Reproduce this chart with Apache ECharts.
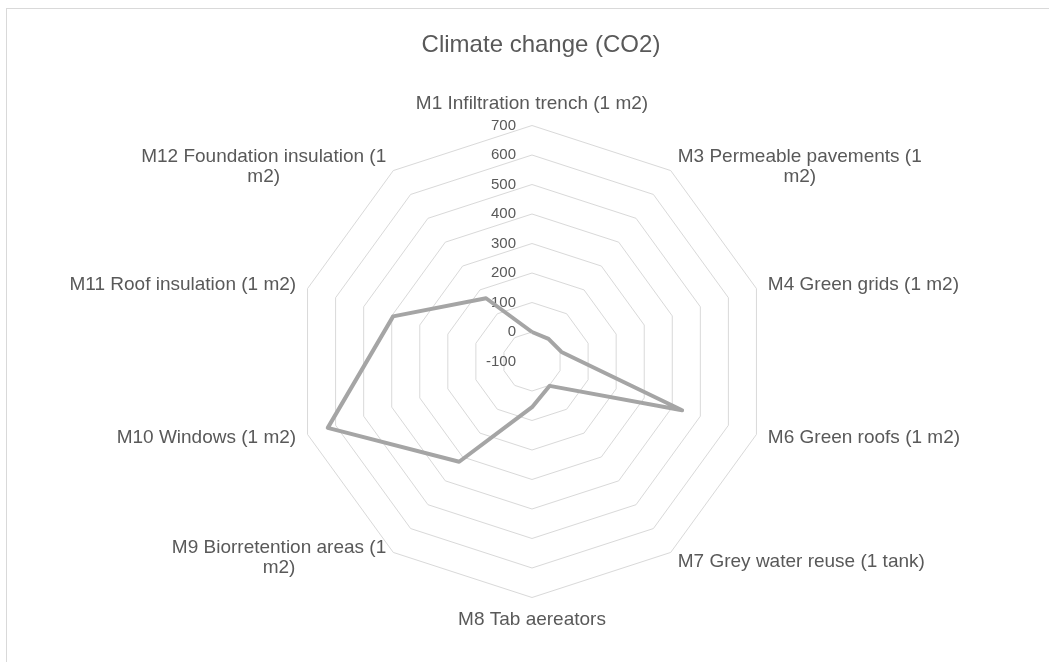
<!DOCTYPE html>
<html>
<head>
<meta charset="utf-8">
<script src="https://cdn.jsdelivr.net/npm/echarts@6/dist/echarts.min.js"></script>
<style>
  html, body { margin: 0; padding: 0; background: #fff; }
  #frame { position: absolute; left: 6px; top: 8px; width: 1200px; height: 800px; border-left: 1px solid #D9D9D9; border-top: 1px solid #D9D9D9; pointer-events: none; }
  #chart { position: absolute; left: 0; top: 0; width: 1049px; height: 662px; }
</style>
</head>
<body>
<div id="chart"></div>
<div id="frame"></div>
<script>
const titleText = 'Climate change (CO2)';
// categories in clockwise order, starting at the top
const categories = [
  'M1 Infiltration trench (1 m2)',
  'M3 Permeable pavements (1\nm2)',
  'M4 Green grids (1 m2)',
  'M6 Green roofs (1 m2)',
  'M7 Grey water reuse (1 tank)',
  'M8 Tab aereators',
  'M9 Biorretention areas (1\nm2)',
  'M10 Windows (1 m2)',
  'M11 Roof insulation (1 m2)',
  'M12 Foundation insulation (1\nm2)'
];
const values = [0, -5, 5, 435, 2, 55, 320, 628, 395, 165];
const axisMin = -100;
const axisMax = 700;
const axisSplits = 8;

const FONT = '"Liberation Sans", Arial, sans-serif';
const TXT = '#595959';

// ECharts radar runs counter-clockwise; reorder so the picture runs clockwise
const order = [0];
for (let i = categories.length - 1; i >= 1; i--) order.push(i);
const n = categories.length;

const indicator = order.map((ci, k) => {
  const o = { name: categories[ci], min: axisMin, max: axisMax };
  if (k === 0) o.axisLabel = { show: true };
  return o;
});
const seriesValues = order.map(ci => values[ci]);

const chart = echarts.init(document.getElementById('chart'), null, { renderer: 'canvas' });
chart.setOption({
  animation: false,
  backgroundColor: '#fff',
  title: {
    text: titleText,
    left: 536,
    textAlign: 'center',
    top: 28,
    textStyle: { fontFamily: FONT, fontSize: 24, fontWeight: 'normal', color: TXT }
  },
  radar: {
    center: [532, 361.5],
    radius: 236,
    startAngle: 90,
    splitNumber: axisSplits,
    shape: 'polygon',
    indicator: indicator,
    nameGap: 12,
    axisName: {
      color: TXT,
      fontFamily: FONT,
      fontSize: 19,
      lineHeight: 20,
      formatter: function (name) {
        const lines = name.split('\n');
        const body = lines.map(l => '{c|' + l + '}').join('\n');
        if (lines.length === 1) return body;
        const ci = categories.indexOf(name);
        const upper = ci <= n / 4 || ci >= n * 3 / 4;
        return upper ? '{t| }\n' + body : body + '\n{b| }';
      },
      rich: {
        c: { align: 'center', color: TXT, fontFamily: FONT, fontSize: 19, lineHeight: 20 },
        t: { align: 'center', fontSize: 1, lineHeight: 12 },
        b: { align: 'center', fontSize: 1, lineHeight: 8 }
      }
    },
    axisLine: { show: false },
    axisTick: { show: false },
    splitArea: { show: false },
    splitLine: { lineStyle: { color: '#D9D9D9', width: 1 } },
    axisLabel: {
      show: false,
      color: TXT,
      fontFamily: FONT,
      fontSize: 15,
      margin: 16
    }
  },
  series: [{
    type: 'radar',
    symbol: 'none',
    lineStyle: { color: '#A5A5A5', width: 4 },
    itemStyle: { color: '#A5A5A5' },
    data: [{ value: seriesValues, name: titleText }]
  }]
});
</script>
</body>
</html>
